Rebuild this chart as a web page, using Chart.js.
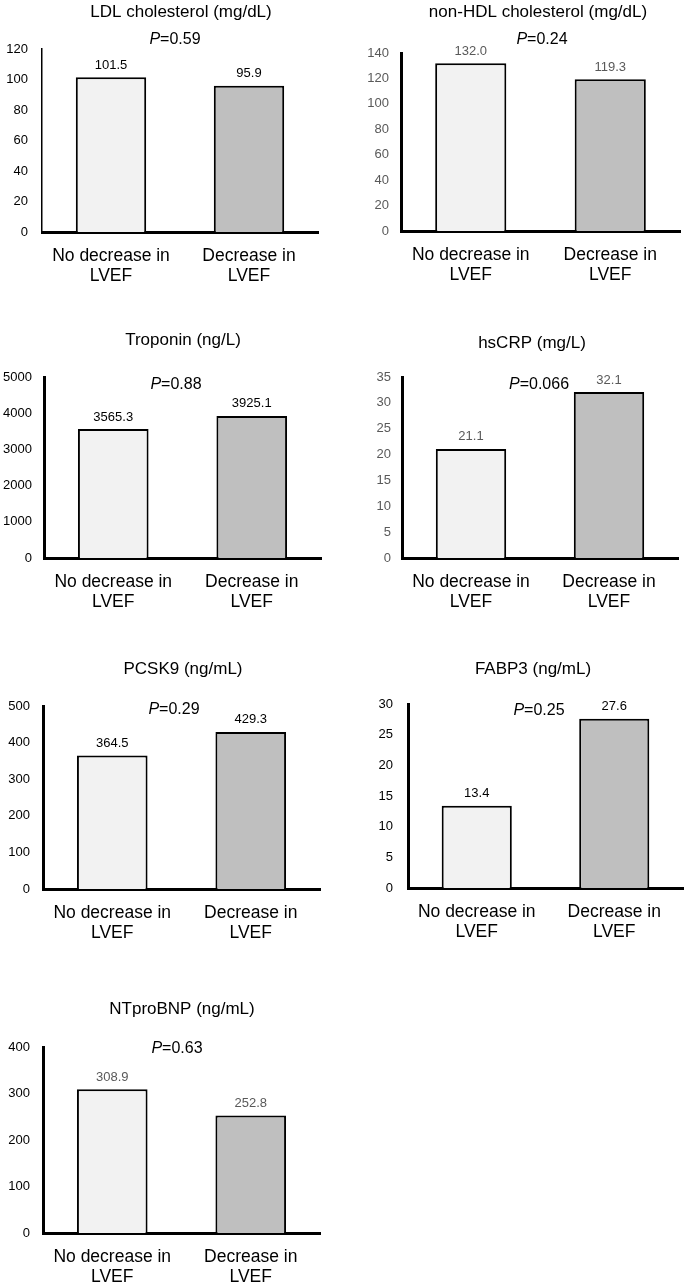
<!DOCTYPE html>
<html>
<head>
<meta charset="utf-8">
<script src="https://cdn.jsdelivr.net/npm/chart.js@4"></script>
<style>
  html, body { margin: 0; padding: 0; background: #fff; }
  body { width: 685px; height: 1282px; position: relative; overflow: hidden; }
  canvas { position: absolute; }
</style>
</head>
<body>
<script>
// x axis groups (two lines each)
const groupLabels = [['No decrease in', 'LVEF'], ['Decrease in', 'LVEF']];

const titles = [
    'LDL cholesterol (mg/dL)',
    'non-HDL cholesterol (mg/dL)',
    'Troponin (ng/L)',
    'hsCRP (mg/L)',
    'PCSK9 (ng/mL)',
    'FABP3 (ng/mL)',
    'NTproBNP (ng/mL)'
];

// values per marker: [no decrease, decrease]
const ldl = [101.5, 95.9];
const nonHdl = [132.0, 119.3];
const troponin = [3565.3, 3925.1];
const hscrp = [21.1, 32.1];
const pcsk9 = [364.5, 429.3];
const fabp3 = [13.4, 27.6];
const ntprobnp = [308.9, 252.8];
const seriesList = [ldl, nonHdl, troponin, hscrp, pcsk9, fabp3, ntprobnp];

const pValues = ['0.59', '0.24', '0.88', '0.066', '0.29', '0.25', '0.63'];

// y axis range / tick step
const yMax = [120, 140, 5000, 35, 500, 30, 400];
const yStep = [20, 20, 1000, 5, 100, 5, 100];

const barColors = ['#f2f2f2', '#bfbfbf'];
const GRAY = '#595959';
const FONT = '"Liberation Sans", Arial, sans-serif';

// layout in page pixels: canvas box [x,y,w,h], plot [left,top,right,bottom], title & P spots
const panels = [
    { box: [0, 0, 340, 340],   plot: [42, 49, 318, 232],    title: [181, 12],   p: [175, 40],   tickPad: 14, yLine: 1.5, tickColor: '#000', valColor: '#000' },
    { box: [340, 0, 345, 340], plot: [401, 53, 680, 231],   title: [538, 12],   p: [542, 40],   tickPad: 12, yLine: 3, tickColor: GRAY, valColor: GRAY },
    { box: [0, 320, 340, 340], plot: [44, 377, 321, 558],   title: [183, 340],  p: [176, 385],  tickPad: 12, yLine: 3, tickColor: '#000', valColor: '#000' },
    { box: [340, 320, 345, 340], plot: [402, 377, 678, 558], title: [532, 343], p: [539, 385],  tickPad: 11, yLine: 3, tickColor: GRAY, valColor: GRAY },
    { box: [0, 640, 340, 340], plot: [43, 706, 320, 889],   title: [183, 669],  p: [174, 710],  tickPad: 13, yLine: 3, tickColor: '#000', valColor: '#000' },
    { box: [340, 640, 345, 340], plot: [408, 704, 683, 888], title: [533, 669], p: [539, 711],  tickPad: 15, yLine: 3, tickColor: '#000', valColor: '#000' },
    { box: [0, 960, 340, 340], plot: [43, 1047, 320, 1233], title: [182, 1009], p: [177, 1049], tickPad: 13, yLine: 3, tickColor: '#000', valColor: GRAY }
];

const X_AXIS_H = 60;

// title, P value and bar value labels
const panelText = {
    id: 'panelText',
    afterDatasetsDraw(chart, args, o) {
        const ctx = chart.ctx;
        ctx.save();
        ctx.textBaseline = 'middle';
        ctx.fillStyle = '#000';

        ctx.textAlign = 'center';
        ctx.font = '17px ' + FONT;
        ctx.fillText(o.title, o.titleX, o.titleY);

        // italic P then "=value"
        const rest = '=' + o.p;
        ctx.font = 'italic 16px ' + FONT;
        const wP = ctx.measureText('P').width;
        ctx.font = '16px ' + FONT;
        const wR = ctx.measureText(rest).width;
        const x0 = o.pX - (wP + wR) / 2;
        ctx.textAlign = 'left';
        ctx.font = 'italic 16px ' + FONT;
        ctx.fillText('P', x0, o.pY);
        ctx.font = '16px ' + FONT;
        ctx.fillText(rest, x0 + wP, o.pY);

        ctx.textAlign = 'center';
        ctx.font = '13px ' + FONT;
        ctx.fillStyle = o.valColor;
        const vals = chart.data.datasets[0].data;
        chart.getDatasetMeta(0).data.forEach((bar, i) => {
            ctx.fillText(vals[i].toFixed(1), bar.x, bar.y - 12);
        });
        ctx.restore();
    }
};

panels.forEach((pn, k) => {
    const [bx, by, bw, bh] = pn.box;
    const [pl, pt, pr, pb] = pn.plot;
    const cv = document.createElement('canvas');
    cv.width = bw;
    cv.height = bh;
    cv.style.left = bx + 'px';
    cv.style.top = by + 'px';
    document.body.appendChild(cv);

    const yW = pl - bx;

    new Chart(cv.getContext('2d'), {
        type: 'bar',
        data: {
            labels: groupLabels,
            datasets: [{
                data: seriesList[k],
                backgroundColor: barColors,
                borderColor: '#000',
                borderWidth: 2,
                categoryPercentage: 1,
                barPercentage: 0.51
            }]
        },
        options: {
            responsive: false,
            animation: false,
            layout: {
                padding: {
                    left: 0,
                    top: pt - by,
                    right: bw - (pr - bx),
                    bottom: bh - (pb - by) - X_AXIS_H
                }
            },
            scales: {
                x: {
                    grid: { display: false, drawTicks: false },
                    border: { display: true, color: '#000', width: 3 },
                    ticks: {
                        color: '#000',
                        padding: 14,
                        autoSkip: false,
                        maxRotation: 0,
                        font: { family: FONT, size: 17.5, lineHeight: 1.15 }
                    },
                    afterFit: s => { s.height = X_AXIS_H; }
                },
                y: {
                    min: 0,
                    max: yMax[k],
                    grid: { display: false, drawTicks: false },
                    border: { display: true, color: '#000', width: pn.yLine },
                    ticks: {
                        stepSize: yStep[k],
                        color: pn.tickColor,
                        padding: pn.tickPad,
                        font: { family: FONT, size: 13 },
                        callback: v => String(v)
                    },
                    afterFit: s => { s.width = yW; }
                }
            },
            plugins: {
                legend: { display: false },
                tooltip: { enabled: false },
                panelText: {
                    title: titles[k],
                    titleX: pn.title[0] - bx,
                    titleY: pn.title[1] - by,
                    p: pValues[k],
                    pX: pn.p[0] - bx,
                    pY: pn.p[1] - by,
                    valColor: pn.valColor
                }
            }
        },
        plugins: [panelText]
    });
});
</script>
</body>
</html>
